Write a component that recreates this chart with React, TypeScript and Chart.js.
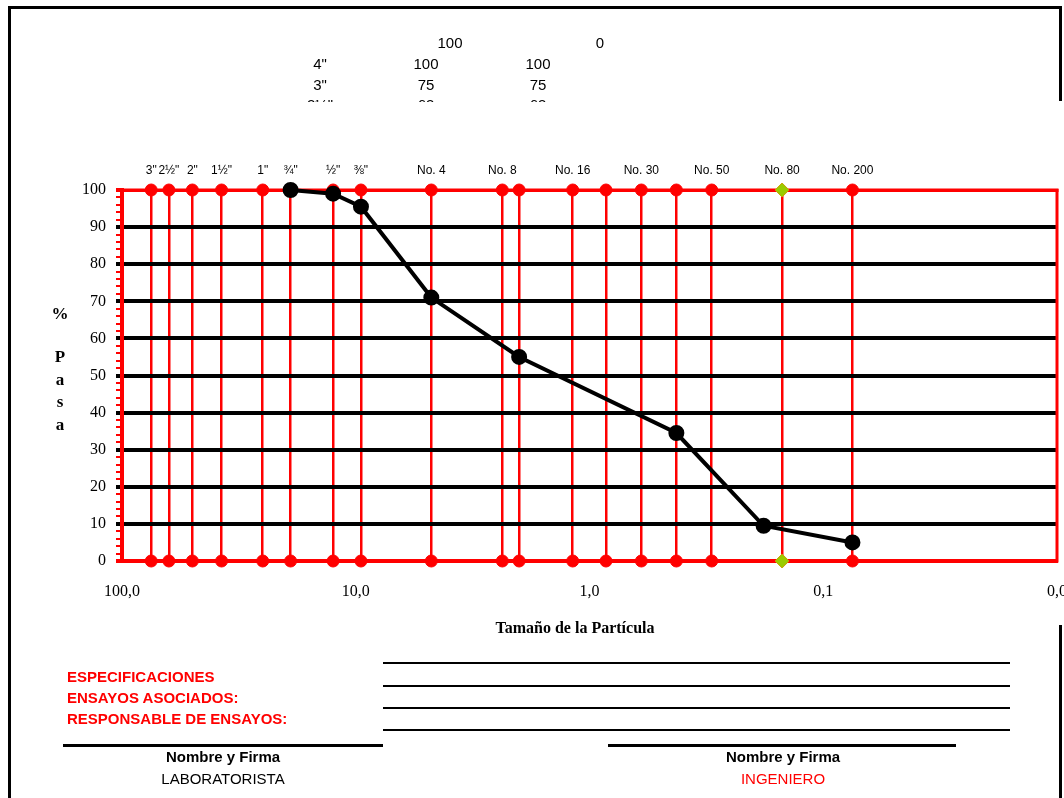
import React, { useEffect, useRef } from "react";
import { Chart, registerables } from "chart.js";

Chart.register(...registerables);

// Sieve openings (mm) and their labels (top axis)
const sieveSizes = [75, 63, 50, 37.5, 25, 19, 12.5, 9.5, 4.75, 2.36, 2.0, 1.18, 0.85, 0.6, 0.425, 0.3, 0.15, 0.075];
const sieveLabels = ['3"', '2½"', '2"', '1½"', '1"', '¾"', '½"', '⅜"', "No. 4", "No. 8", "", "No. 16", "", "No. 30", "", "No. 50", "No. 80", "No. 200"];
// sieve highlighted with a green diamond
const specialSieve = [0.15];

// Granulometric curve
const curveSizes = [19, 12.5, 9.5, 4.75, 2.0, 0.425, 0.18, 0.075];
const curvePassing = [100, 99, 95.5, 71, 55, 34.5, 9.5, 5];

// Bottom axis ticks
const xTickValues = [100, 10, 1, 0.1, 0.01];
const xTickLabels = ["100,0", "10,0", "1,0", "0,1", "0,0"];

// Header table
const headerRows = [
  ["", "100", "0"],
  ['4"', "100", "100"],
  ['3"', "75", "75"],
  ['2½"', "63", "63"],
];

const SERIF = "'Liberation Serif', 'DejaVu Serif', serif";
const SANS = "'Liberation Sans', Arial, sans-serif";

function T(props: { x: number; y: number; children: any; style?: any; align?: string }) {
  const { x, y, children, style, align } = props;
  const tx = align === "left" ? "0" : "-50%";
  return (
    <div
      style={{
        position: "absolute",
        left: x,
        top: y,
        transform: `translate(${tx},-50%)`,
        whiteSpace: "nowrap",
        fontFamily: SANS,
        fontSize: 15,
        lineHeight: 1,
        color: "#000",
        ...style,
      }}
    >
      {children}
    </div>
  );
}

function Line(props: { x1: number; x2: number; y: number; h?: number }) {
  const { x1, x2, y, h = 2 } = props;
  return <div style={{ position: "absolute", left: x1, top: y - h / 2, width: x2 - x1, height: h, background: "#000" }} />;
}

export default function App() {
  const ref = useRef<HTMLCanvasElement>(null);

  useEffect(() => {
    const canvas = ref.current!;
    const borderPlugin = {
      id: "areaBorder",
      beforeDatasetsDraw(chart: any) {
        const { ctx, chartArea } = chart;
        ctx.save();
        ctx.strokeStyle = "#ff0000";
        ctx.lineWidth = 3;
        ctx.strokeRect(chartArea.left, chartArea.top, chartArea.right - chartArea.left, chartArea.bottom - chartArea.top);
        ctx.lineWidth = 4;
        ctx.beginPath();
        ctx.moveTo(chartArea.left, chartArea.top - 2);
        ctx.lineTo(chartArea.left, chartArea.bottom + 2);
        ctx.stroke();
        ctx.restore();
      },
    };

    const redPts: any[] = [];
    sieveSizes.forEach((s) => {
      if (specialSieve.includes(s)) return;
      redPts.push({ x: s, y: 100 });
      redPts.push({ x: s, y: 0 });
    });
    const greenPts: any[] = [];
    specialSieve.forEach((s) => {
      greenPts.push({ x: s, y: 100 });
      greenPts.push({ x: s, y: 0 });
    });

    const chart = new Chart(canvas, {
      type: "scatter",
      data: {
        datasets: [
          {
            data: curveSizes.map((s, i) => ({ x: s, y: curvePassing[i] })),
            showLine: true,
            borderColor: "#000",
            borderWidth: 4,
            pointRadius: 6,
            pointBackgroundColor: "#000",
            pointBorderColor: "#000",
            tension: 0,
            order: 0,
            clip: false as any,
          },
          {
            data: greenPts,
            showLine: false,
            pointStyle: "rectRot",
            pointRadius: 7,
            pointBackgroundColor: "#99cc00",
            pointBorderColor: "#c8a000",
            pointBorderWidth: 1,
            order: 1,
            clip: false as any,
          },
          {
            data: redPts,
            showLine: false,
            pointRadius: 6,
            pointBackgroundColor: "#ff0000",
            pointBorderColor: "#ff0000",
            order: 2,
            clip: false as any,
          },
        ],
      },
      options: {
        animation: false,
        responsive: false,
        layout: { autoPadding: false, padding: { left: 62, right: 7, top: 150, bottom: 197 } },
        plugins: { legend: { display: false }, tooltip: { enabled: false } },
        scales: {
          x: {
            type: "logarithmic",
            position: "bottom",
            reverse: true,
            min: 0.01,
            max: 100,
            afterBuildTicks: (scale: any) => {
              scale.ticks = xTickValues.map((v) => ({ value: v }));
            },
            afterFit: (scale: any) => {
              scale.height = 40;
              scale.paddingLeft = 0;
              scale.paddingRight = 0;
            },
            ticks: {
              autoSkip: false,
              maxRotation: 0,
              padding: 21,
              color: "#000",
              font: { family: SERIF, size: 16 },
              callback: (_v: any, i: number) => xTickLabels[i],
            },
            grid: { display: false, drawTicks: false },
            border: { display: true, color: "#ff0000", width: 4 },
          },
          xTop: {
            type: "logarithmic",
            position: "top",
            reverse: true,
            min: 0.01,
            max: 100,
            afterBuildTicks: (scale: any) => {
              scale.ticks = sieveSizes.map((v) => ({ value: v }));
            },
            afterFit: (scale: any) => {
              scale.height = 40;
              scale.paddingLeft = 0;
              scale.paddingRight = 0;
            },
            ticks: {
              autoSkip: false,
              maxRotation: 0,
              padding: 12,
              color: "#000",
              font: { family: SANS, size: 12 },
              callback: (_v: any, i: number) => sieveLabels[i],
            },
            grid: { display: true, drawTicks: false, color: "#ff0000", lineWidth: 2.5 },
            border: { display: true, color: "#ff0000", width: 3 },
          },
          y: {
            type: "linear",
            min: 0,
            max: 100,
            afterFit: (scale: any) => {
              scale.width = 60;
            },
            ticks: {
              stepSize: 2,
              autoSkip: false,
              padding: 10,
              color: "#000",
              font: { family: SERIF, size: 16 },
              callback: (v: any) => (Number(v) % 10 === 0 ? String(v) : ""),
            },
            grid: {
              tickLength: 6,
              lineWidth: (ctx: any) => (ctx.tick && ctx.tick.value % 10 === 0 ? 4 : 2),
              color: (ctx: any) => {
                const v = ctx.tick ? ctx.tick.value : -1;
                if (v % 10 === 0 && v > 0 && v < 100) return "#000";
                return "rgba(0,0,0,0)";
              },
              tickColor: (ctx: any) => {
                const v = ctx.tick ? ctx.tick.value : -1;
                return v % 10 === 0 && v > 0 && v < 100 ? "#000" : "#ff0000";
              },
            } as any,
            border: { display: false },
          },
        },
      } as any,
      plugins: [borderPlugin],
    });
    return () => chart.destroy();
  }, []);

  const headerX = [320, 426, 538];
  const firstRowX = [0, 450, 600];

  return (
    <div style={{ position: "fixed", left: 0, top: 0, width: 1064, height: 798, background: "#fff", overflow: "hidden" }}>
      <canvas ref={ref} width={1064} height={798} style={{ position: "absolute", left: 0, top: 0, width: 1064, height: 798 }} />

      {/* page frame */}
      <div style={{ position: "absolute", left: 8, top: 6, width: 1054, height: 3, background: "#000" }} />
      <div style={{ position: "absolute", left: 8, top: 6, width: 3, height: 792, background: "#000" }} />
      <div style={{ position: "absolute", left: 1059, top: 6, width: 3, height: 95, background: "#000" }} />
      <div style={{ position: "absolute", left: 1059, top: 625, width: 3, height: 173, background: "#000" }} />

      {/* header table (clipped) */}
      <div style={{ position: "absolute", left: 0, top: 0, width: 1064, height: 102, overflow: "hidden" }}>
        {headerRows.map((row, r) =>
          row.map((cell, c) =>
            cell ? (
              <T key={r + "-" + c} x={r === 0 ? firstRowX[c] : headerX[c]} y={r === 3 ? 104 : 42 + r * 21}>
                {cell}
              </T>
            ) : null
          )
        )}
      </div>

      {/* y axis title */}
      {["%", "P", "a", "s", "a"].map((ch, i) => (
        <T key={i} x={60} y={i === 0 ? 313 : 356 + (i - 1) * 22.5} style={{ fontFamily: SERIF, fontWeight: "bold", fontSize: 17 }}>
          {ch}
        </T>
      ))}

      {/* x axis title */}
      <T x={575} y={628} style={{ fontFamily: SERIF, fontWeight: "bold", fontSize: 16 }}>
        Tamaño de la Partícula
      </T>

      {/* footer */}
      <Line x1={383} x2={1010} y={663} />
      <Line x1={383} x2={1010} y={686} />
      <Line x1={383} x2={1010} y={708} />
      <Line x1={383} x2={1010} y={730} />
      <T x={67} y={676} align="left" style={{ color: "#ff0000", fontWeight: "bold" }}>ESPECIFICACIONES</T>
      <T x={67} y={697} align="left" style={{ color: "#ff0000", fontWeight: "bold" }}>ENSAYOS ASOCIADOS:</T>
      <T x={67} y={718} align="left" style={{ color: "#ff0000", fontWeight: "bold" }}>RESPONSABLE DE ENSAYOS:</T>

      <Line x1={63} x2={383} y={745} h={3} />
      <Line x1={608} x2={956} y={745} h={3} />
      <T x={223} y={756} style={{ fontWeight: "bold" }}>Nombre y Firma</T>
      <T x={223} y={778}>LABORATORISTA</T>
      <T x={783} y={756} style={{ fontWeight: "bold" }}>Nombre y Firma</T>
      <T x={783} y={778} style={{ color: "#ff0000" }}>INGENIERO</T>
    </div>
  );
}
